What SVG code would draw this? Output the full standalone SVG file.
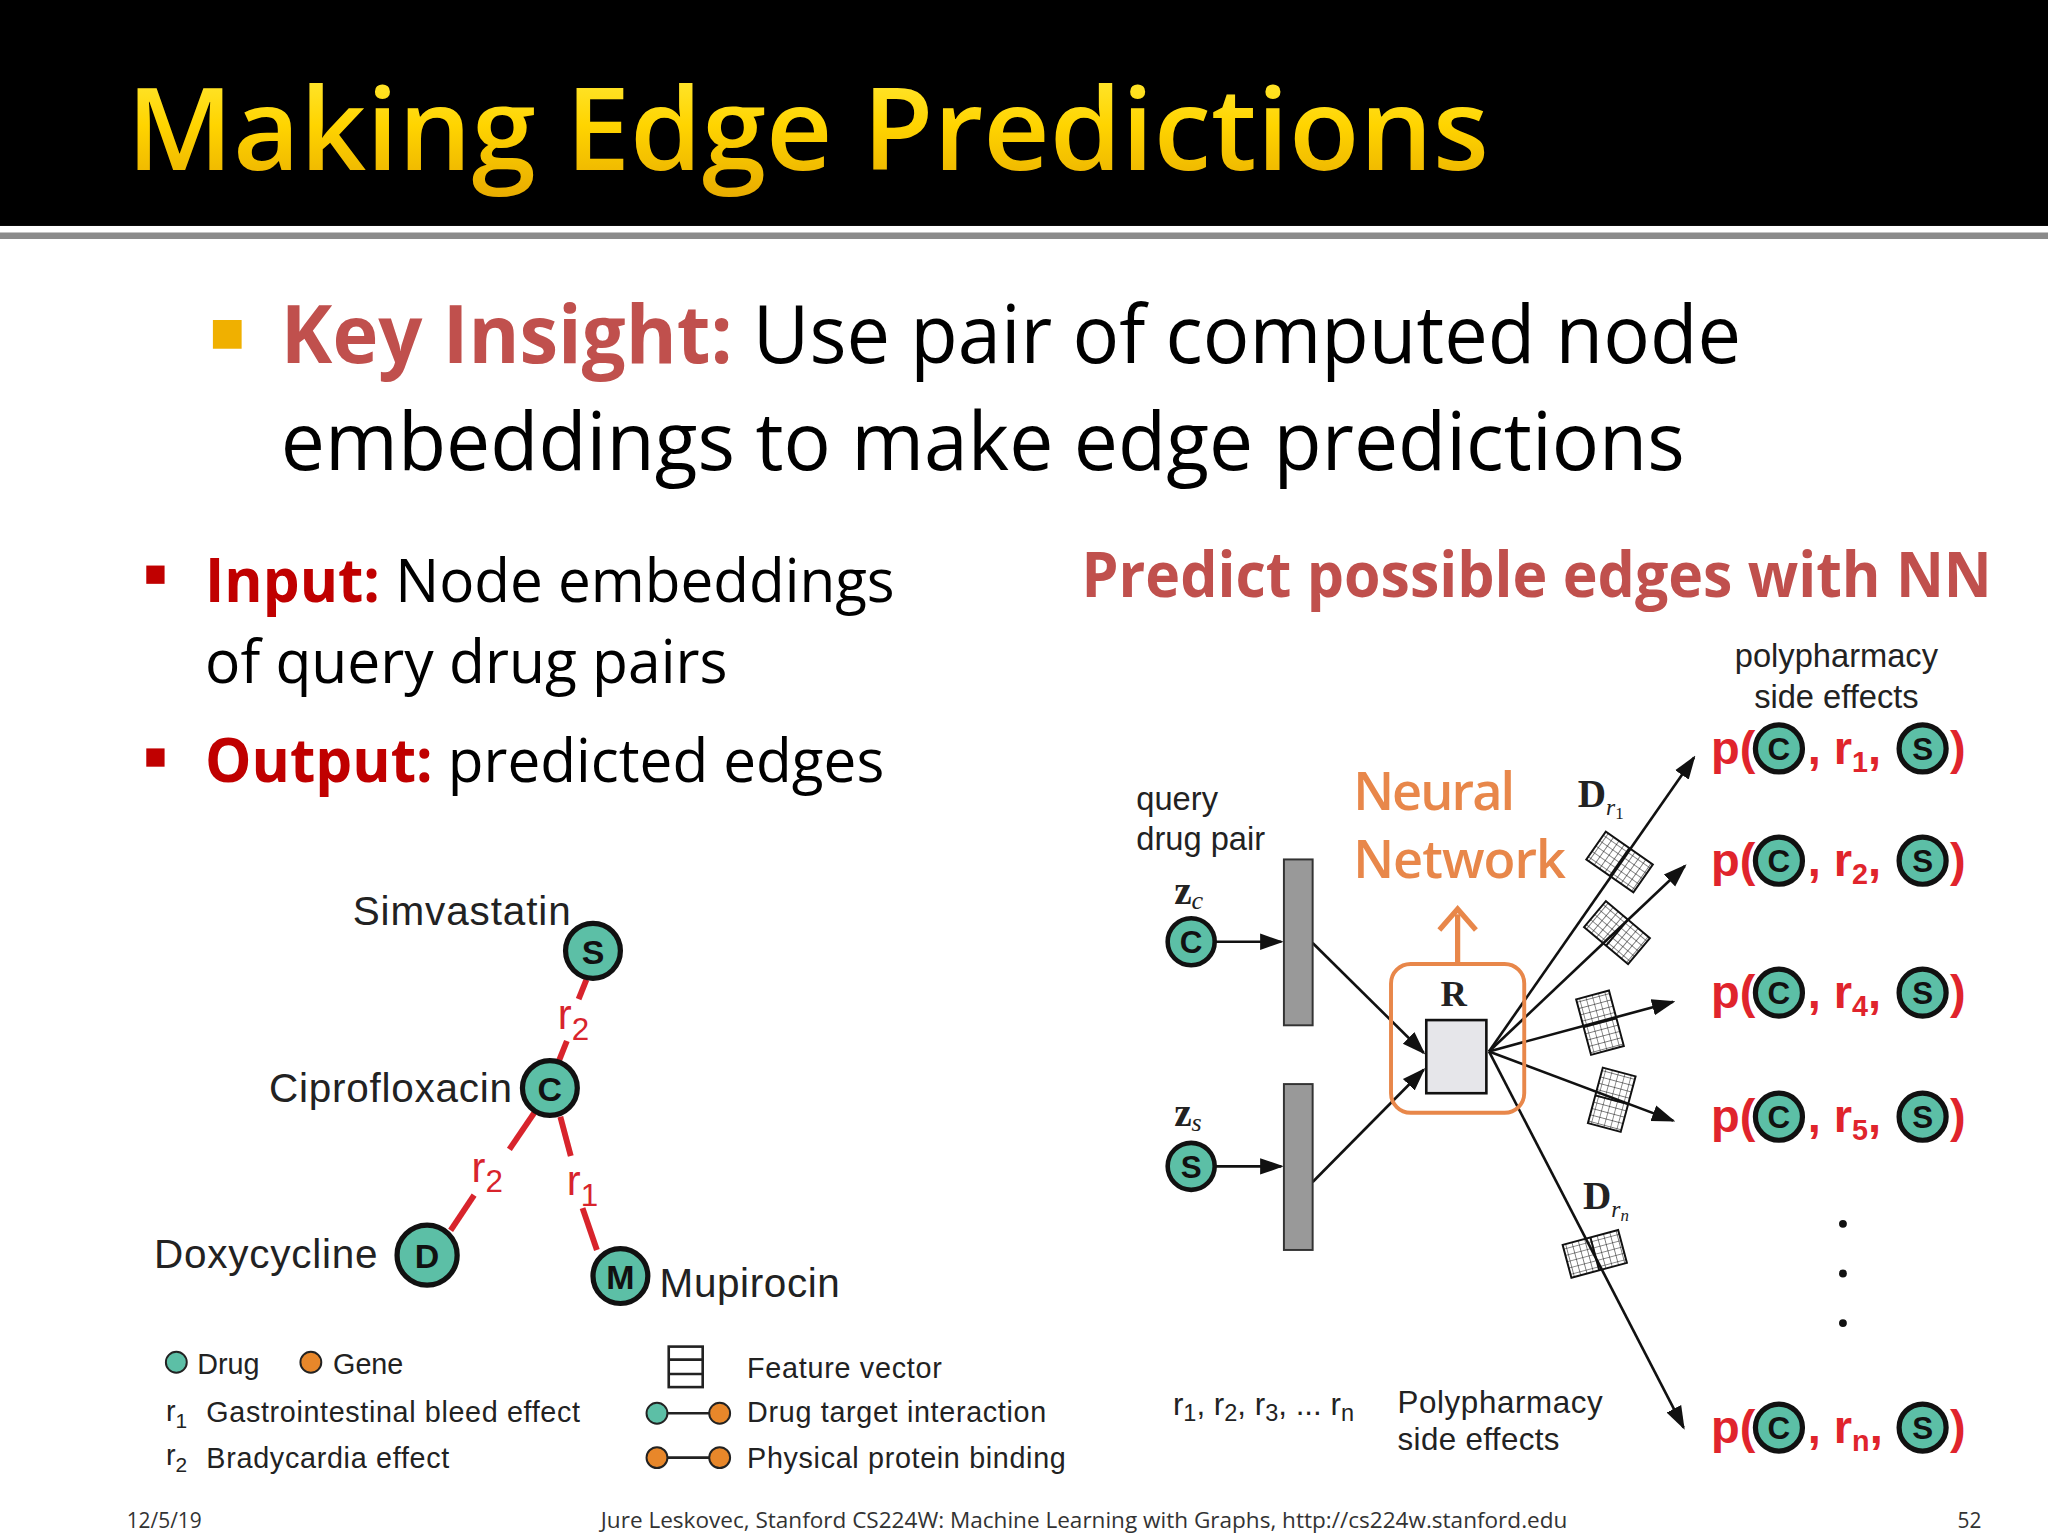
<svg xmlns="http://www.w3.org/2000/svg" width="2048" height="1536" viewBox="0 0 2048 1536">
<defs>
<style>
.body{font-family:"Open Sans","Liberation Sans",sans-serif;fill:#000}
.hv{font-family:"Liberation Sans",Arial,sans-serif;fill:#222}
.serif{font-family:"Liberation Serif","DejaVu Serif",serif;fill:#222}
.pred{font-family:"Liberation Sans",Arial,sans-serif;font-weight:bold;fill:#e0242c;font-size:36px}
.node{fill:#5cbfa6;stroke:#111;stroke-width:4}
.nl{font-family:"Liberation Sans",Arial,sans-serif;font-weight:bold;fill:#111;text-anchor:middle}
.edge{stroke:#d8242c;stroke-width:4.5;fill:none}
.ln{stroke:#111;stroke-width:2;fill:none}
.bar{fill:#999;stroke:#333;stroke-width:1.5}
</style>
<linearGradient id="gold" x1="0" y1="0" x2="0" y2="1">
<stop offset="0" stop-color="#fff04a"/><stop offset="0.5" stop-color="#ffd400"/><stop offset="1" stop-color="#e6a800"/>
</linearGradient>
<marker id="ahb" viewBox="0 0 10 10" refX="9" refY="5" markerWidth="18" markerHeight="18" orient="auto" markerUnits="userSpaceOnUse">
<path d="M0,1.5 L10,5 L0,8.5 z" fill="#111"/>
</marker>
<pattern id="grid" width="5" height="5" patternUnits="userSpaceOnUse">
<path d="M0,0 H5 M0,0 V5" stroke="#111" stroke-width="0.8" fill="none"/>
</pattern>
<g id="blk"><rect x="-22" y="-13" width="44" height="26" fill="url(#grid)" stroke="#111" stroke-width="1.5"/><line x1="0" y1="-13" x2="0" y2="13" stroke="#111" stroke-width="1.5"/></g>
</defs>
<rect width="2048" height="1536" fill="#fff"/>
<g transform="scale(1.30612)">
<g id="header">
<rect x="0" y="0" width="1568" height="173" fill="#000"/>
<rect x="0" y="178" width="1568" height="5" fill="#8a8a8a"/>
<text x="97" y="130" font-family="'Open Sans','Liberation Sans',sans-serif" font-weight="600" font-size="88" fill="url(#gold)" textLength="1043" lengthAdjust="spacingAndGlyphs">Making Edge Predictions</text>
</g>
<g id="insight">
<rect x="163" y="245" width="22" height="22" fill="#f0b000"/>
<text class="body" x="215" y="278" font-size="62" textLength="1118" lengthAdjust="spacingAndGlyphs"><tspan fill="#c0504d" font-weight="bold">Key Insight:</tspan> Use pair of computed node</text>
<text class="body" x="215" y="360" font-size="62" textLength="1075" lengthAdjust="spacingAndGlyphs">embeddings to make edge predictions</text>
</g>
<g id="bullets">
<rect x="112" y="433" width="14" height="14" fill="#c00000"/>
<text class="body" x="157" y="461" font-size="46" textLength="528" lengthAdjust="spacingAndGlyphs"><tspan fill="#c00000" font-weight="bold">Input:</tspan> Node embeddings</text>
<text class="body" x="157" y="523" font-size="46" textLength="400" lengthAdjust="spacingAndGlyphs">of query drug pairs</text>
<rect x="112" y="573" width="14" height="14" fill="#c00000"/>
<text class="body" x="157" y="599" font-size="46" textLength="520" lengthAdjust="spacingAndGlyphs"><tspan fill="#c00000" font-weight="bold">Output:</tspan> predicted edges</text>
<text class="body" x="828" y="457" font-size="48" font-weight="bold" style="fill:#c0504d" textLength="697" lengthAdjust="spacingAndGlyphs">Predict possible edges with NN</text>
</g>
<g id="graph-edges">
<line class="edge" x1="449" y1="750" x2="443" y2="765"/>
<line class="edge" x1="434" y1="797" x2="428" y2="812"/>
<line class="edge" x1="409" y1="852" x2="390" y2="880"/>
<line class="edge" x1="363" y1="915" x2="345" y2="942"/>
<line class="edge" x1="429" y1="855" x2="437" y2="885"/>
<line class="edge" x1="446" y1="925" x2="457" y2="957"/>
<text class="hv" x="427" y="788" font-size="32" style="fill:#d8242c">r<tspan font-size="24" dy="8">2</tspan></text>
<text class="hv" x="361" y="905" font-size="32" style="fill:#d8242c">r<tspan font-size="24" dy="8">2</tspan></text>
<text class="hv" x="434" y="915" font-size="32" style="fill:#d8242c">r<tspan font-size="24" dy="8">1</tspan></text>
</g>
<g id="simvastatin"><circle class="node" cx="454" cy="728" r="21"/><text class="nl" x="454" y="738" font-size="26">S</text><text class="hv" x="270" y="708" font-size="31" textLength="167">Simvastatin</text></g>
<g id="ciprofloxacin"><circle class="node" cx="421" cy="833" r="21"/><text class="nl" x="421" y="843" font-size="26">C</text><text class="hv" x="206" y="844" font-size="31" textLength="186">Ciprofloxacin</text></g>
<g id="doxycycline"><circle class="node" cx="327" cy="961" r="23"/><text class="nl" x="327" y="971" font-size="26">D</text><text class="hv" x="118" y="971" font-size="31" textLength="171">Doxycycline</text></g>
<g id="mupirocin"><circle class="node" cx="475" cy="977" r="21"/><text class="nl" x="475" y="987" font-size="26">M</text><text class="hv" x="505" y="993" font-size="31" textLength="138">Mupirocin</text></g>
<g id="legend">
<circle cx="135" cy="1043" r="8" fill="#5cbfa6" stroke="#222" stroke-width="1.5"/><text class="hv" x="151" y="1052" font-size="22">Drug</text>
<circle cx="238" cy="1043" r="8" fill="#e8872a" stroke="#222" stroke-width="1.5"/><text class="hv" x="255" y="1052" font-size="22">Gene</text>
<text class="hv" x="127" y="1088" font-size="22">r<tspan font-size="16" dy="5">1</tspan></text><text class="hv" x="158" y="1089" font-size="22" textLength="286">Gastrointestinal bleed effect</text>
<text class="hv" x="127" y="1122" font-size="22">r<tspan font-size="16" dy="5">2</tspan></text><text class="hv" x="158" y="1124" font-size="22" textLength="186">Bradycardia effect</text>
<rect x="512" y="1031" width="26" height="31" fill="#fff" stroke="#222" stroke-width="2"/><line x1="512" y1="1041" x2="538" y2="1041" stroke="#222" stroke-width="2"/><line x1="512" y1="1052" x2="538" y2="1052" stroke="#222" stroke-width="2"/>
<text class="hv" x="572" y="1055" font-size="22" textLength="149">Feature vector</text>
<line x1="503" y1="1082" x2="551" y2="1082" stroke="#222" stroke-width="2"/><circle cx="503" cy="1082" r="8" fill="#5cbfa6" stroke="#222" stroke-width="1.5"/><circle cx="551" cy="1082" r="8" fill="#e8872a" stroke="#222" stroke-width="1.5"/>
<text class="hv" x="572" y="1089" font-size="22" textLength="229">Drug target interaction</text>
<line x1="503" y1="1116" x2="551" y2="1116" stroke="#222" stroke-width="2"/><circle cx="503" cy="1116" r="8" fill="#e8872a" stroke="#222" stroke-width="1.5"/><circle cx="551" cy="1116" r="8" fill="#e8872a" stroke="#222" stroke-width="1.5"/>
<text class="hv" x="572" y="1124" font-size="22" textLength="244">Physical protein binding</text>
</g>
<g id="footer" font-family="'Open Sans','Liberation Sans',sans-serif" font-size="16" fill="#333">
<text x="97" y="1170">12/5/19</text>
<text x="830" y="1170" text-anchor="middle" textLength="740" lengthAdjust="spacingAndGlyphs">Jure Leskovec, Stanford CS224W: Machine Learning with Graphs, http://cs224w.stanford.edu</text>
<text x="1517" y="1170" text-anchor="end">52</text>
</g>
<g id="connectors">
<line class="ln" x1="931" y1="721" x2="981" y2="721" marker-end="url(#ahb)"/>
<line class="ln" x1="931" y1="893" x2="981" y2="893" marker-end="url(#ahb)"/>
<line class="ln" x1="1005" y1="722" x2="1090" y2="806" marker-end="url(#ahb)"/>
<line class="ln" x1="1005" y1="905" x2="1090" y2="819" marker-end="url(#ahb)"/>
<line class="ln" x1="1140" y1="805" x2="1297" y2="580" marker-end="url(#ahb)"/>
<line class="ln" x1="1140" y1="805" x2="1290" y2="663" marker-end="url(#ahb)"/>
<line class="ln" x1="1140" y1="805" x2="1281" y2="767" marker-end="url(#ahb)"/>
<line class="ln" x1="1140" y1="805" x2="1281" y2="858" marker-end="url(#ahb)"/>
<line class="ln" x1="1140" y1="805" x2="1289" y2="1093" marker-end="url(#ahb)"/>
<path d="M1116,738 V700" stroke="#e8874a" stroke-width="4" fill="none"/>
<path d="M1102,712 L1116,696 L1130,712" stroke="#e8874a" stroke-width="4" fill="none"/>
</g>
<g id="blocks">
<use href="#blk" transform="translate(1240,660) rotate(35)"/>
<use href="#blk" transform="translate(1238,714) rotate(40)"/>
<use href="#blk" transform="translate(1225,783) rotate(75)"/>
<use href="#blk" transform="translate(1234,842) rotate(105)"/>
<use href="#blk" transform="translate(1221,960) rotate(-15)"/>
<text class="serif" x="1208" y="618" font-size="30" font-weight="bold">D<tspan font-size="18" font-style="italic" font-weight="normal" dy="6">r</tspan><tspan font-size="13" font-weight="normal" dy="3">1</tspan></text>
<text class="serif" x="1212" y="926" font-size="30" font-weight="bold">D<tspan font-size="18" font-style="italic" font-weight="normal" dy="6">r</tspan><tspan font-size="13" font-style="italic" font-weight="normal" dy="3">n</tspan></text>
</g>
<g id="query">
<text class="hv" x="870" y="620" font-size="25">query</text>
<text class="hv" x="870" y="651" font-size="25">drug pair</text>
<text class="serif" x="899" y="692" font-size="30" font-weight="bold">z<tspan font-size="20" font-style="italic" font-weight="normal" dy="4">c</tspan></text>
<text class="serif" x="899" y="862" font-size="30" font-weight="bold">z<tspan font-size="20" font-style="italic" font-weight="normal" dy="4">s</tspan></text>
<circle class="node" cx="912" cy="721" r="18" style="stroke-width:3.5"/><text class="nl" x="912" y="730" font-size="24">C</text>
<circle class="node" cx="912" cy="893" r="18" style="stroke-width:3.5"/><text class="nl" x="912" y="902" font-size="24">S</text>
<rect class="bar" x="983" y="658" width="22" height="127"/>
<rect class="bar" x="983" y="830" width="22" height="127"/>
</g>
<g id="nn">
<rect x="1065" y="738" width="102" height="114" rx="15" fill="none" stroke="#e8874a" stroke-width="3"/>
<rect x="1092" y="781" width="46" height="56" fill="#e6e6ea" stroke="#111" stroke-width="2"/>
<text class="serif" x="1113" y="770" font-size="28" font-weight="bold" text-anchor="middle">R</text>
<text x="1036" y="620" font-family="'Open Sans','Liberation Sans',sans-serif" font-weight="600" font-size="40" fill="#e8874a" textLength="124">Neural</text>
<text x="1036" y="672" font-family="'Open Sans','Liberation Sans',sans-serif" font-weight="600" font-size="40" fill="#e8874a" textLength="163">Network</text>
</g>
<g id="predictions">
<text class="hv" x="1406" y="511" font-size="25" text-anchor="middle">polypharmacy</text>
<text class="hv" x="1406" y="542" font-size="25" text-anchor="middle">side effects</text>
<g transform="translate(0,573)">
<text class="pred" x="1310" y="12">p(</text><circle class="node" cx="1362" cy="0" r="18"/><text class="nl" x="1362" y="9" font-size="24">C</text>
<text class="pred" x="1384" y="12">, r<tspan font-size="22" dy="6">1</tspan><tspan dy="-6">,</tspan></text><circle class="node" cx="1472" cy="0" r="18"/><text class="nl" x="1472" y="9" font-size="24">S</text><text class="pred" x="1493" y="12">)</text></g>
<g transform="translate(0,659)">
<text class="pred" x="1310" y="12">p(</text><circle class="node" cx="1362" cy="0" r="18"/><text class="nl" x="1362" y="9" font-size="24">C</text>
<text class="pred" x="1384" y="12">, r<tspan font-size="22" dy="6">2</tspan><tspan dy="-6">,</tspan></text><circle class="node" cx="1472" cy="0" r="18"/><text class="nl" x="1472" y="9" font-size="24">S</text><text class="pred" x="1493" y="12">)</text></g>
<g transform="translate(0,760)">
<text class="pred" x="1310" y="12">p(</text><circle class="node" cx="1362" cy="0" r="18"/><text class="nl" x="1362" y="9" font-size="24">C</text>
<text class="pred" x="1384" y="12">, r<tspan font-size="22" dy="6">4</tspan><tspan dy="-6">,</tspan></text><circle class="node" cx="1472" cy="0" r="18"/><text class="nl" x="1472" y="9" font-size="24">S</text><text class="pred" x="1493" y="12">)</text></g>
<g transform="translate(0,855)">
<text class="pred" x="1310" y="12">p(</text><circle class="node" cx="1362" cy="0" r="18"/><text class="nl" x="1362" y="9" font-size="24">C</text>
<text class="pred" x="1384" y="12">, r<tspan font-size="22" dy="6">5</tspan><tspan dy="-6">,</tspan></text><circle class="node" cx="1472" cy="0" r="18"/><text class="nl" x="1472" y="9" font-size="24">S</text><text class="pred" x="1493" y="12">)</text></g>
<g transform="translate(0,1093)">
<text class="pred" x="1310" y="12">p(</text><circle class="node" cx="1362" cy="0" r="18"/><text class="nl" x="1362" y="9" font-size="24">C</text>
<text class="pred" x="1384" y="12">, r<tspan font-size="22" dy="6">n</tspan><tspan dy="-6">,</tspan></text><circle class="node" cx="1472" cy="0" r="18"/><text class="nl" x="1472" y="9" font-size="24">S</text><text class="pred" x="1493" y="12">)</text></g>
<circle cx="1411" cy="937" r="3" fill="#111"/><circle cx="1411" cy="975" r="3" fill="#111"/><circle cx="1411" cy="1013" r="3" fill="#111"/>
<text class="hv" x="898" y="1083" font-size="24">r<tspan font-size="18" dy="5">1</tspan><tspan dy="-5">, r</tspan><tspan font-size="18" dy="5">2</tspan><tspan dy="-5">, r</tspan><tspan font-size="18" dy="5">3</tspan><tspan dy="-5">, ... r</tspan><tspan font-size="18" dy="5">n</tspan></text>
<text class="hv" x="1070" y="1082" font-size="24" textLength="157">Polypharmacy</text>
<text class="hv" x="1070" y="1110" font-size="24" textLength="124">side effects</text>
</g>
</g>
</svg>
